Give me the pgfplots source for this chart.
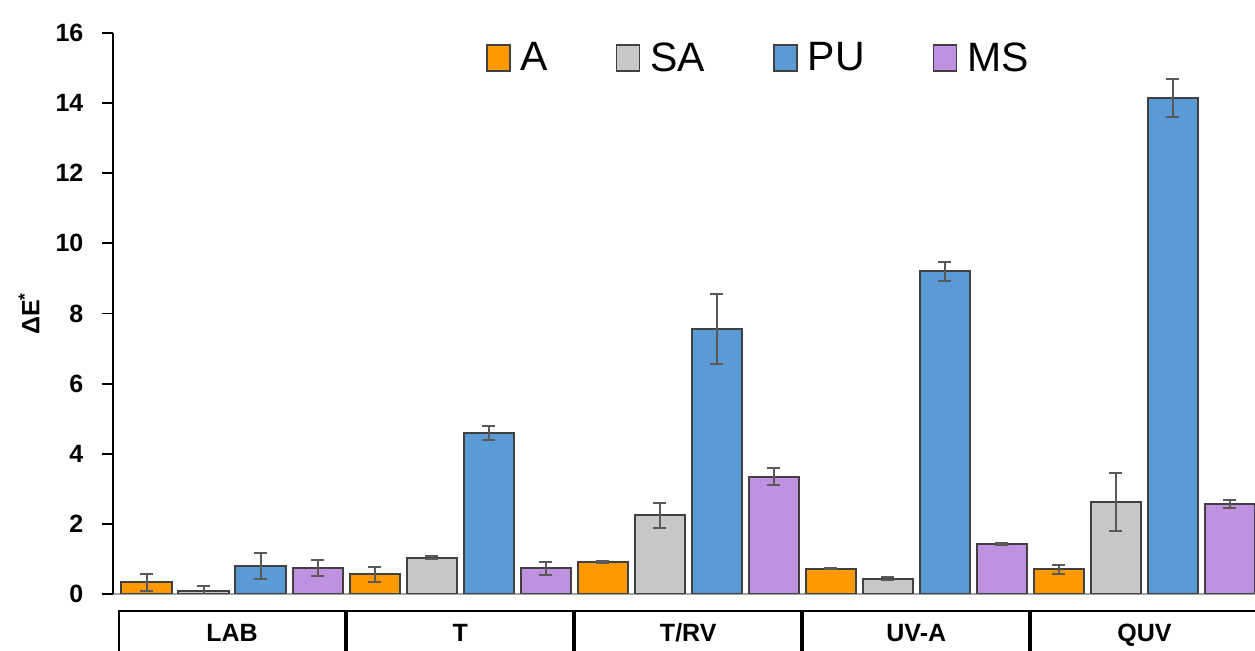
\documentclass[border=0pt]{standalone}
\usepackage{pgfplots}
\pgfplotsset{compat=1.18}
\usepackage{fontspec}
\setmainfont{Liberation Sans}
\definecolor{cA}{RGB}{255,153,0}
\definecolor{cSA}{RGB}{200,200,200}
\definecolor{cPU}{RGB}{91,155,213}
\definecolor{cMS}{RGB}{191,145,224}
\definecolor{edge}{RGB}{64,64,64}
\definecolor{errc}{RGB}{89,89,89}
\begin{document}
\begin{tikzpicture}
\begin{axis}[
  name=ax,
  scale only axis, width=571pt, height=280.5pt,
  ybar, bar width=0.22,
  xmin=-0.522, xmax=4.485, ymin=0, ymax=16,
  axis x line*=bottom, axis y line*=left,
  x axis line style={draw=black!35, line width=0.8pt},
  y axis line style={draw=black, line width=0.9pt},
  xtick={0,1,2,3,4}, xticklabels={LAB,T,T/RV,UV-A,QUV},
  x tick style={draw=none},
  ytick={0,2,...,16},
  tick align=outside, major tick length=5.5pt,
  y tick style={draw=black, line width=0.9pt},
  /pgf/number format/assume math mode=true,
  yticklabel style={font=\fontsize{12.5}{15}\selectfont\bfseries, xshift=-5.8pt},
  xticklabel style={font=\fontsize{12.5}{15}\selectfont\bfseries, draw=black, line width=1pt, minimum width=113pt, minimum height=21.5pt, text height=9pt, text depth=0pt, inner sep=0pt, anchor=north, yshift=-2.5pt},
  ylabel={\bfseries ΔE\textsuperscript{*}},
  ylabel style={font=\fontsize{12.5}{15}\selectfont, at={(axis description cs:-0.0736,0.5)}, anchor=center},
  legend columns=4,
  legend style={draw=none, fill=none, at={(axis description cs:0.566,0.955)}, anchor=center, font=\fontsize{20.5}{24}\selectfont, /tikz/every even column/.append style={column sep=32pt}, /tikz/every odd column/.append style={column sep=3pt}},
  legend image code/.code={\draw[#1, line width=0.8pt] (0pt,-6.5pt) rectangle (11.5pt,6.5pt);},
  error bars/y dir=both, error bars/y explicit,
  error bars/error mark=|,
  error bars/error bar style={draw=errc, line width=1pt},
  error bars/error mark options={draw=errc, line width=1pt, mark size=3.25pt},
]
\addplot[fill=cA, draw=edge, line width=1pt, bar shift=-0.375] coordinates {
  (0,0.33) +- (0,0.24) (1,0.56) +- (0,0.22) (2,0.91) +- (0,0.04) (3,0.72) +- (0,0.02) (4,0.70) +- (0,0.12)};
\addlegendentry{A}
\addplot[fill=cSA, draw=edge, line width=1pt, bar shift=-0.125] coordinates {
  (0,0.09) +- (0,0.13) (1,1.04) +- (0,0.04) (2,2.24) +- (0,0.35) (3,0.44) +- (0,0.04) (4,2.62) +- (0,0.82)};
\addlegendentry{SA}
\addplot[fill=cPU, draw=edge, line width=1pt, bar shift=0.125] coordinates {
  (0,0.80) +- (0,0.37) (1,4.59) +- (0,0.21) (2,7.56) +- (0,1.00) (3,9.20) +- (0,0.26) (4,14.15) +- (0,0.55)};
\addlegendentry{PU}
\addplot[fill=cMS, draw=edge, line width=1pt, bar shift=0.375] coordinates {
  (0,0.74) +- (0,0.24) (1,0.73) +- (0,0.18) (2,3.35) +- (0,0.23) (3,1.43) +- (0,0.03) (4,2.56) +- (0,0.12)};
\addlegendentry{MS}
\end{axis}
\pgfresetboundingbox
\path[use as bounding box] ([xshift=-56.5pt,yshift=-28.5pt]ax.south west) rectangle ([yshift=16.5pt]ax.north east);
\end{tikzpicture}
\end{document}
